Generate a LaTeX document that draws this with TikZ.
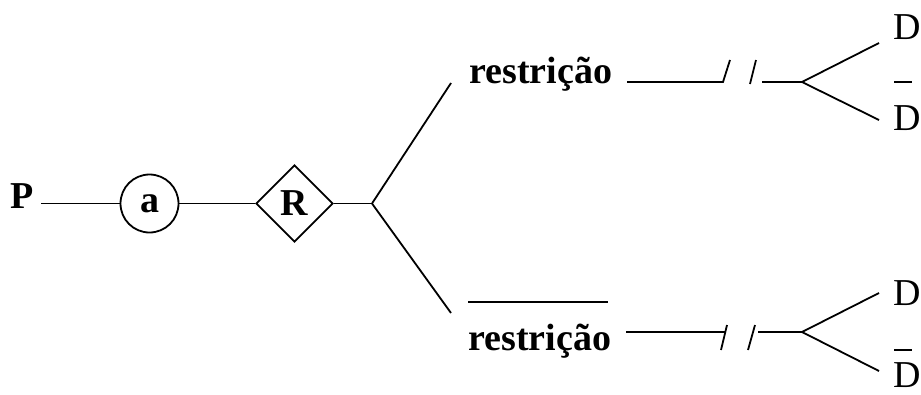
\documentclass[tikz,border=0pt]{standalone}
\usepackage{fontspec}
\setmainfont{Liberation Serif}
\usetikzlibrary{shapes.geometric,calc}
\begin{document}
\begin{tikzpicture}[x=1pt,y=-1pt,
  ln/.style={line width=1.8pt},
  bt/.style={font=\fontsize{38}{40}\selectfont\bfseries, inner sep=0pt},
  dt/.style={font=\fontsize{38}{40}\selectfont, inner sep=0pt, anchor=base west},
]
\useasboundingbox (0,0) rectangle (921,394);
% main chain
\node[bt, anchor=base, inner xsep=7pt] (P) at (22.5,208) {P};
\node[draw, ln, circle, minimum size=58pt, inner sep=0pt, bt] (a) at (149.5,203.5) {a};
\node[draw, ln, diamond, aspect=1, minimum width=77pt, minimum height=77pt, inner sep=0pt, bt] (R) at (294.5,203.5) {R};
\coordinate (F) at (372,203.5);
\coordinate (Bu) at (451,83);
\coordinate (Bl) at (451,313);
\draw[ln] (P.east |- a.center) -- (a.west);
\draw[ln] (a.east) -- (R.west);
\draw[ln] (R.east) -- (F);
\draw[ln] (Bu) -- (F) -- (Bl);
% upper branch
\node[bt, anchor=base west] (r1) at (469,83) {restrição};
\coordinate (l1) at (627,82);
\coordinate (s1) at (723,82);
\coordinate (s1t) at (730,60);
\coordinate (s2b) at (750,84);
\coordinate (s2t) at (756,60);
\coordinate (g1) at (762,82);
\coordinate (F1) at (802,82);
\coordinate (e1u) at (879,43);
\coordinate (e1l) at (879,120);
\draw[ln] (l1) -- (s1) -- (s1t);
\draw[ln] (s2b) -- (s2t);
\draw[ln] (g1) -- (F1);
\draw[ln] (e1u) -- (F1) -- (e1l);
\node[dt] (D1) at (893,39) {D};
\node[dt] (D2) at (893,130) {D};
\draw[ln] ($(D2.north west)+(1,-23)$) -- ($(D2.north west)+(19,-23)$);
% lower branch
\node[bt, anchor=base west] (r2) at (468,350) {restrição};
\draw[ln] (r2.west |- 0,302) -- ([xshift=-3pt]r2.east |- 0,302);
\coordinate (l2) at (626,332);
\coordinate (s3) at (724.5,332);
\coordinate (s3b) at (721,350);
\coordinate (s3t) at (727,325);
\coordinate (s4b) at (748,350);
\coordinate (s4t) at (755,325);
\coordinate (g2) at (758,332);
\coordinate (F2) at (802,332);
\coordinate (e2u) at (879,293);
\coordinate (e2l) at (879,371);
\draw[ln] (l2) -- (s3);
\draw[ln] (s3b) -- (s3t);
\draw[ln] (s4b) -- (s4t);
\draw[ln] (g2) -- (F2);
\draw[ln] (e2u) -- (F2) -- (e2l);
\node[dt] (D3) at (893,305) {D};
\node[dt] (D4) at (893,387) {D};
\draw[ln] ($(D4.north west)+(1,-12)$) -- ($(D4.north west)+(19,-12)$);
\end{tikzpicture}
\end{document}
